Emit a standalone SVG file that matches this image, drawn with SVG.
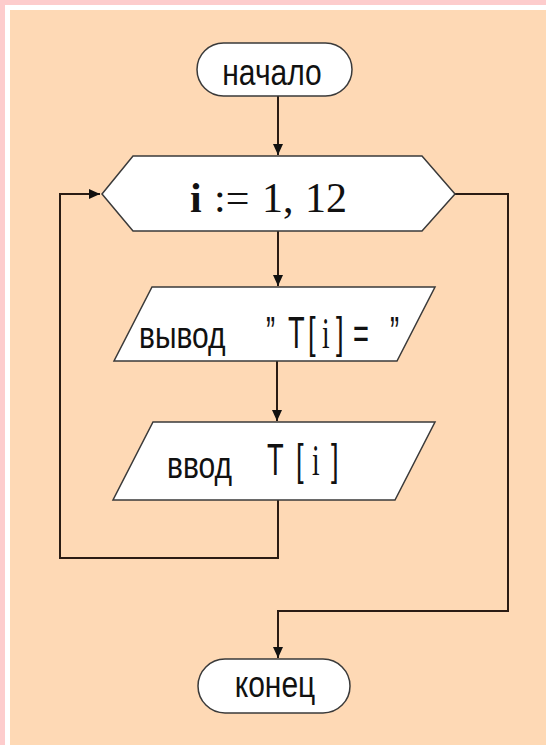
<svg xmlns="http://www.w3.org/2000/svg" width="546" height="745" viewBox="0 0 546 745">
  <style>
    .shape { fill: #ffffff; stroke: #3a3a3a; stroke-width: 1.5; }
    .wire { fill: none; stroke: #2a1c14; stroke-width: 2; }
    .sans { font-family: "Liberation Sans", Arial, sans-serif; fill: #111111; }
    .serif { font-family: "Liberation Serif", "Times New Roman", serif; fill: #111111; }
  </style>
  <defs>
    <marker id="arrow" markerUnits="userSpaceOnUse" markerWidth="12" markerHeight="12" viewBox="0 0 12 12" refX="11" refY="6" orient="auto">
      <path d="M0,1 L11,6 L0,11 Z" fill="#111111"/>
    </marker>
  </defs>

  <!-- background frame -->
  <rect x="0" y="0" width="546" height="745" fill="#fdcccc"/>
  <rect x="5" y="5" width="541" height="740" fill="#ffffff"/>
  <rect x="10" y="10" width="536" height="735" fill="#fed9b5"/>

  <!-- connectors -->
  <g id="connectors">
    <path class="wire" d="M278,96 V155" marker-end="url(#arrow)"/>
    <path class="wire" d="M278,231 V286" marker-end="url(#arrow)"/>
    <path class="wire" d="M277,361 V421" marker-end="url(#arrow)"/>
    <path class="wire" d="M278,500 V558 H60 V194 H100" marker-end="url(#arrow)"/>
    <path class="wire" d="M455,194 H508 V611 H278 V658" marker-end="url(#arrow)"/>
  </g>

  <!-- start terminal -->
  <g id="start">
    <rect class="shape" x="197" y="43" width="155" height="53" rx="26.5"/>
    <text class="sans" font-size="30" text-anchor="middle" transform="translate(272,85) scale(1,1.2)">начало</text>
  </g>

  <!-- loop header -->
  <g id="loop">
    <polygon class="shape" points="102,194 133,156 422,156 455,194 422,231 133,231"/>
    <text class="serif" font-size="42" y="212">
      <tspan x="190" font-weight="bold">i</tspan><tspan x="214">:=</tspan><tspan x="262">1,</tspan><tspan x="305">12</tspan>
    </text>
  </g>

  <!-- output block -->
  <g id="output">
    <polygon class="shape" points="152,287 435,287 397,361 114,361"/>
    <text class="sans" font-size="30" transform="translate(139,348) scale(1,1.2)">вывод</text>
    <text class="sans" font-size="44" transform="translate(266,348) scale(0.62,1)">”</text>
    <text class="sans" font-size="44" transform="translate(288,348) scale(0.62,1)">T</text>
    <text class="sans" font-size="44" transform="translate(308,348) scale(0.62,1)">[</text>
    <text class="serif" font-size="44" transform="translate(322,348) scale(0.62,1)">i</text>
    <text class="sans" font-size="44" transform="translate(336,348) scale(0.62,1)">]</text>
    <text class="sans" font-size="44" transform="translate(353,348) scale(0.62,1)">=</text>
    <text class="sans" font-size="44" transform="translate(390,348) scale(0.62,1)">”</text>
  </g>

  <!-- input block -->
  <g id="input">
    <polygon class="shape" points="153,422 435,422 395,500 113,500"/>
    <text class="sans" font-size="30" transform="translate(167,478) scale(1,1.2)">ввод</text>
    <text class="sans" font-size="44" transform="translate(267,475) scale(0.62,1)">T</text>
    <text class="sans" font-size="44" transform="translate(296,475) scale(0.62,1)">[</text>
    <text class="serif" font-size="44" transform="translate(312,475) scale(0.62,1)">i</text>
    <text class="sans" font-size="44" transform="translate(331,475) scale(0.62,1)">]</text>
  </g>

  <!-- end terminal -->
  <g id="end">
    <rect class="shape" x="198" y="659" width="152" height="54" rx="27"/>
    <text class="sans" font-size="30" text-anchor="middle" transform="translate(275,697) scale(1,1.2)">конец</text>
  </g>
</svg>
